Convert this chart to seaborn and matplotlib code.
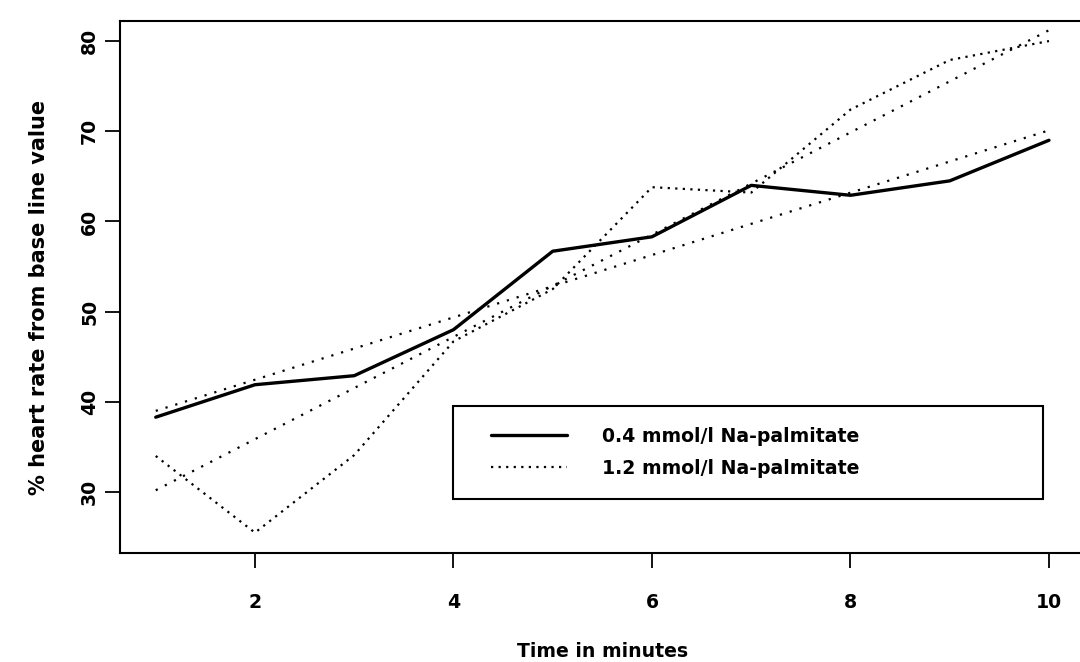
import pandas as pd
import seaborn as sns
import matplotlib.pyplot as plt
from matplotlib.lines import Line2D
from matplotlib.legend_handler import HandlerLine2D

# time points (minutes) and mean % heart rate
minutes = [1, 2, 3, 4, 5, 6, 7, 8, 9, 10]
low_dose = [38.3, 41.9, 42.9, 48.0, 56.7, 58.3, 64.0, 62.9, 64.5, 69.0]
high_dose = [34.0, 25.5, 34.1, 46.7, 52.5, 63.8, 63.2, 72.4, 77.9, 80.0]

# fitted trend lines, read at first and last minute
fit_minutes = [1, 10]
low_fit = [39.0, 70.1]
high_fit = [30.2, 81.2]

low_label = "0.4 mmol/l Na-palmitate"
high_label = "1.2 mmol/l Na-palmitate"
x_ticks = [2, 4, 6, 8, 10]
y_ticks = [30, 40, 50, 60, 70, 80]

sns.set_style("ticks")
plt.rcParams["font.family"] = ["DejaVu Sans"]
plt.rcParams["font.weight"] = "bold"
plt.rcParams["text.color"] = "black"
plt.rcParams["axes.labelcolor"] = "black"

fs = 13.6

df = pd.DataFrame({"minute": minutes, "low": low_dose, "high": high_dose})
df_fit = pd.DataFrame({"minute": fit_minutes, "low": low_fit, "high": high_fit})

fig = plt.figure(figsize=(10.8, 6.62), dpi=100)
ax = fig.add_axes([120/1080, (662-552.5)/662, 964.7/1080, 531.3/662])

sns.lineplot(data=df, x="minute", y="low", ax=ax, color="black", lw=2.4, label=low_label)
sns.lineplot(data=df, x="minute", y="high", ax=ax, color="black", lw=1.6,
             dashes=False, label=high_label)
ax.lines[-1].set_dashes([1, 2.4])
sns.lineplot(data=df_fit, x="minute", y="low", ax=ax, color="black", lw=1.6, legend=False)
ax.lines[-1].set_dashes([1, 3.6])
sns.lineplot(data=df_fit, x="minute", y="high", ax=ax, color="black", lw=1.6, legend=False)
ax.lines[-1].set_dashes([1, 3.6])

ax.set_xlim(0.64, 10.36)
ax.set_ylim(23.3, 82.2)
ax.set_xticks(x_ticks)
ax.set_yticks(y_ticks)
ax.tick_params(direction="out", length=11, width=1.3, labelsize=fs, colors="black")
ax.tick_params(axis="x", pad=18)
ax.tick_params(axis="y", pad=4)
for t in ax.get_yticklabels():
    t.set_rotation(90)
    t.set_va("center")
for s in ax.spines.values():
    s.set_visible(True)
    s.set_linewidth(1.5)
    s.set_color("black")

ax.set_xlabel("Time in minutes", fontsize=fs, fontweight="bold")
ax.set_ylabel("% heart rate from base line value", fontsize=15, fontweight="bold")
ax.xaxis.label.set_va("baseline")
ax.xaxis.set_label_coords(0.5, -0.1967)
ax.yaxis.set_label_coords(-0.0736, 0.48)

leg = ax.legend(loc="center", bbox_to_anchor=(0.345, 0.1, 0.612, 0.177), mode="expand",
                fontsize=fs, frameon=True, fancybox=False, borderpad=1.1, borderaxespad=0,
                labelspacing=0.7, handlelength=4.92, handletextpad=1.9,
                handler_map={Line2D: HandlerLine2D(xpad=0.9)})
leg.get_frame().set_edgecolor("black")
leg.get_frame().set_linewidth(1.5)
leg.get_frame().set_alpha(1)

plt.savefig("out.png", dpi=100)
